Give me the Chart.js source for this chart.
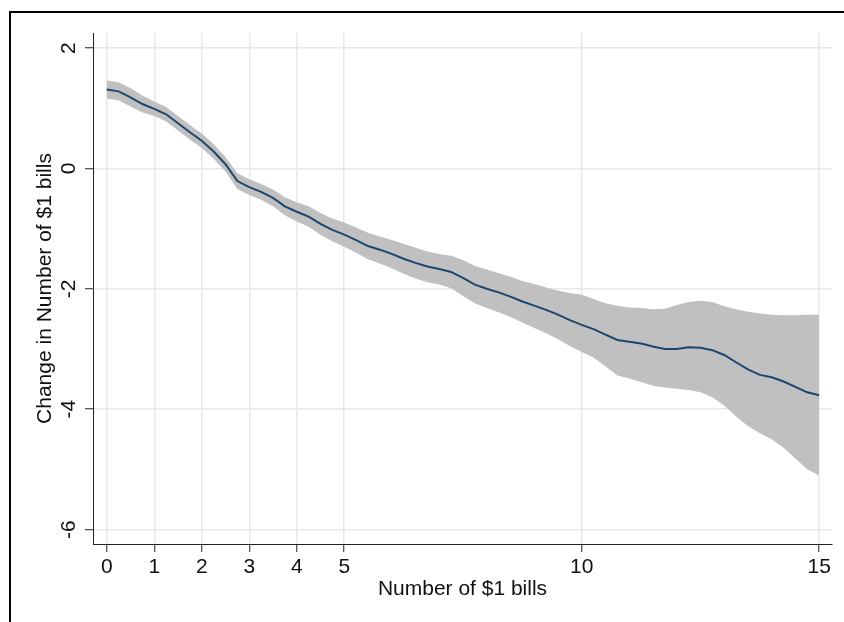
<!DOCTYPE html>
<html>
<head>
<meta charset="utf-8">
<script src="https://cdn.jsdelivr.net/npm/chart.js@4"></script>
<style>
    html, body { margin: 0; padding: 0; background: #fff; }
    #wrap { position: relative; width: 844px; height: 622px; overflow: hidden; }
    #frame {
        position: absolute; left: 9px; top: 11px; width: 900px; height: 700px;
        border-top: 2px solid #000; border-left: 2px solid #000; pointer-events: none;
    }
    canvas { position: absolute; left: 0; top: 0; }
</style>
</head>
<body>
<div id="wrap">
    <canvas id="chart" width="844" height="622"></canvas>
    <div id="frame"></div>
</div>
<script>
// ========================================
// DATA
// ========================================

const xValues = [
    0, 0.25, 0.5, 0.75, 1, 1.25, 1.5, 1.75, 2, 2.25, 2.5, 2.75,
    3, 3.25, 3.5, 3.75, 4, 4.25, 4.5, 4.75, 5, 5.25, 5.5, 5.75,
    6, 6.25, 6.5, 6.75, 7, 7.25, 7.5, 7.75, 8, 8.25, 8.5, 8.75,
    9, 9.25, 9.5, 9.75, 10, 10.25, 10.5, 10.75, 11, 11.25, 11.5, 11.75,
    12, 12.25, 12.5, 12.75, 13, 13.25, 13.5, 13.75, 14, 14.25, 14.5, 14.75, 15
];

const fitted = [
    1.31, 1.28, 1.18, 1.07, 0.99, 0.90, 0.75, 0.60, 0.46, 0.28, 0.07, -0.21,
    -0.31, -0.39, -0.49, -0.63, -0.72, -0.80, -0.92, -1.02, -1.10, -1.19, -1.29, -1.35,
    -1.42, -1.50, -1.57, -1.63, -1.67, -1.72, -1.82, -1.93, -2.00, -2.06, -2.13, -2.21,
    -2.28, -2.35, -2.43, -2.52, -2.60, -2.67, -2.76, -2.85, -2.88, -2.91, -2.96, -3.00,
    -3.00, -2.97, -2.98, -3.02, -3.10, -3.22, -3.34, -3.43, -3.47, -3.54, -3.63, -3.72, -3.77
];

const upperCI = [
    1.46, 1.43, 1.33, 1.21, 1.11, 1.02, 0.87, 0.72, 0.58, 0.40, 0.19, -0.08,
    -0.18, -0.26, -0.35, -0.48, -0.56, -0.63, -0.74, -0.83, -0.90, -0.98, -1.07, -1.13,
    -1.19, -1.25, -1.32, -1.38, -1.42, -1.45, -1.52, -1.62, -1.68, -1.74, -1.80, -1.87,
    -1.92, -1.98, -2.03, -2.07, -2.10, -2.17, -2.24, -2.28, -2.31, -2.32, -2.34, -2.33,
    -2.27, -2.22, -2.20, -2.22, -2.29, -2.34, -2.38, -2.41, -2.43, -2.44, -2.44, -2.43, -2.43
];

const lowerCI = [
    1.16, 1.13, 1.03, 0.93, 0.87, 0.78, 0.63, 0.48, 0.34, 0.16, -0.05, -0.34,
    -0.44, -0.52, -0.63, -0.78, -0.88, -0.97, -1.10, -1.21, -1.30, -1.40, -1.51, -1.58,
    -1.66, -1.75, -1.83, -1.89, -1.93, -1.99, -2.12, -2.24, -2.32, -2.39, -2.47, -2.56,
    -2.65, -2.74, -2.84, -2.95, -3.05, -3.14, -3.29, -3.44, -3.49, -3.55, -3.61, -3.64,
    -3.66, -3.68, -3.72, -3.80, -3.94, -4.12, -4.28, -4.40, -4.50, -4.64, -4.82, -5.00, -5.10
];

const xTicks = [0, 1, 2, 3, 4, 5, 10, 15];
const yTicks = [-6, -4, -2, 0, 2];

const xTitle = 'Number of $1 bills';
const yTitle = 'Change in Number of $1 bills';

// ========================================
// STYLE
// ========================================

const COLORS = {
    line: '#1a476f',
    band: '#c0c0c0',
    grid: '#e8e8e8',
    axis: '#222222',
    text: '#111111'
};

const FONT = { family: "'Liberation Sans', Arial, Helvetica, sans-serif", size: 21 };

const toPoints = ys => xValues.map((x, i) => ({ x, y: ys[i] }));

// ========================================
// CHART
// ========================================

new Chart(document.getElementById('chart'), {
    type: 'line',
    data: {
        datasets: [
            {
                data: toPoints(fitted),
                borderColor: COLORS.line,
                borderWidth: 2,
                pointRadius: 0,
                fill: false,
                tension: 0
            },
            {
                data: toPoints(upperCI),
                borderWidth: 0,
                borderColor: 'rgba(0,0,0,0)',
                backgroundColor: COLORS.band,
                pointRadius: 0,
                fill: '+1',
                tension: 0
            },
            {
                data: toPoints(lowerCI),
                borderWidth: 0,
                borderColor: 'rgba(0,0,0,0)',
                pointRadius: 0,
                fill: false,
                tension: 0
            }
        ]
    },
    options: {
        responsive: false,
        animation: false,
        devicePixelRatio: 1,
        layout: { padding: { left: 0, top: 33, right: 12, bottom: 0 } },
        plugins: {
            legend: { display: false },
            tooltip: { enabled: false }
        },
        scales: {
            x: {
                type: 'linear',
                min: -0.29,
                max: 15.27,
                afterBuildTicks: scale => { scale.ticks = xTicks.map(value => ({ value })); },
                afterFit: scale => { scale.height = 78; },
                grid: {
                    color: COLORS.grid,
                    lineWidth: 1.5,
                    tickColor: COLORS.axis,
                    tickLength: 8,
                    tickWidth: 1
                },
                border: { color: COLORS.axis, width: 1 },
                ticks: {
                    color: COLORS.text,
                    font: FONT,
                    padding: 3,
                    maxRotation: 0,
                    autoSkip: false,
                    callback: v => String(v)
                },
                title: {
                    display: true,
                    text: xTitle,
                    color: COLORS.text,
                    font: FONT,
                    padding: { top: 0, bottom: 20 }
                }
            },
            y: {
                type: 'linear',
                min: -6.24,
                max: 2.25,
                afterBuildTicks: scale => { scale.ticks = yTicks.map(value => ({ value })); },
                afterFit: scale => { scale.width = 93; },
                grid: {
                    color: COLORS.grid,
                    lineWidth: 1.5,
                    tickColor: COLORS.axis,
                    tickLength: 8,
                    tickWidth: 1
                },
                border: { color: COLORS.axis, width: 1 },
                ticks: {
                    color: COLORS.text,
                    font: FONT,
                    padding: 6,
                    minRotation: 90,
                    maxRotation: 90,
                    crossAlign: 'center',
                    autoSkip: false,
                    callback: v => String(v)
                },
                title: {
                    display: true,
                    text: yTitle,
                    color: COLORS.text,
                    font: FONT,
                    padding: { top: 33, bottom: 0 }
                }
            }
        }
    }
});
</script>
</body>
</html>
